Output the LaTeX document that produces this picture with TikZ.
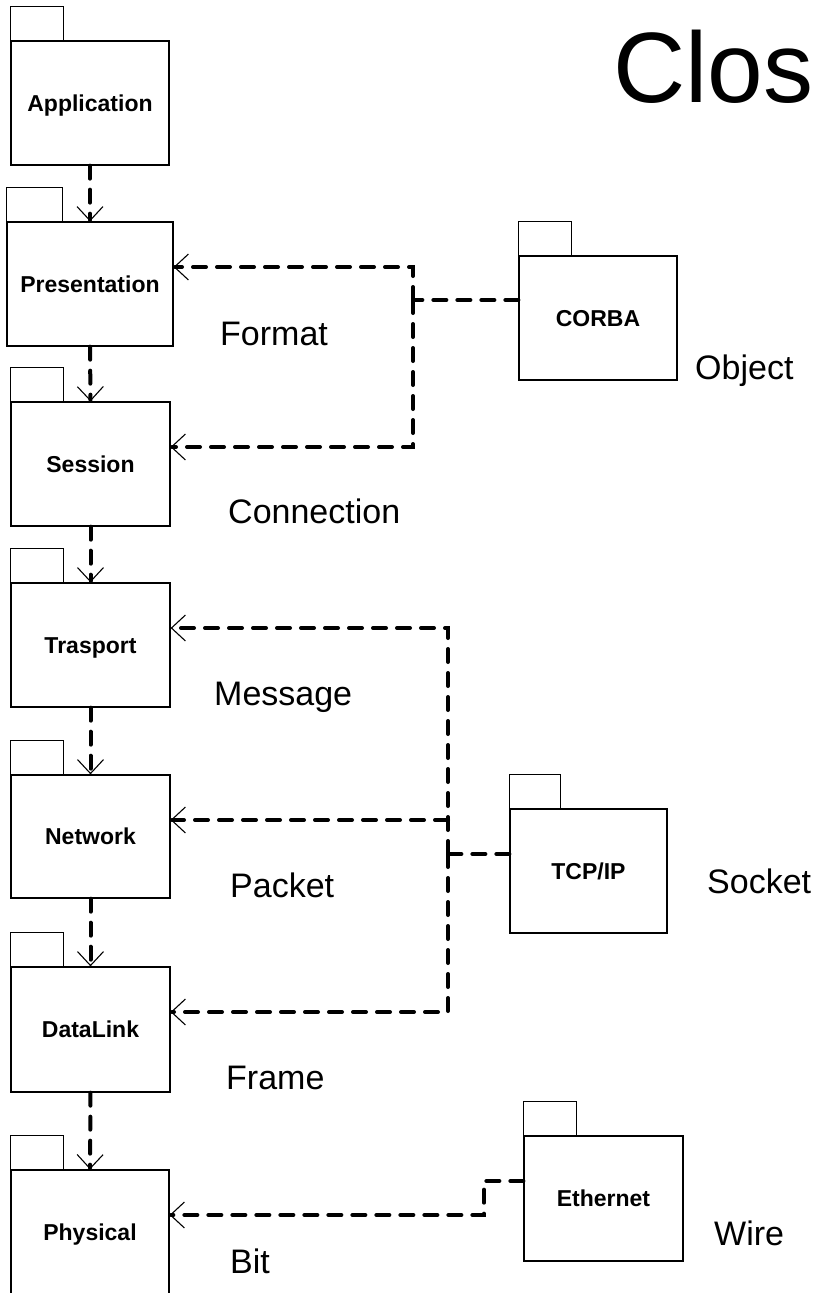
\documentclass[tikz,border=0pt]{standalone}
\usepackage{fontspec}
\setmainfont{Liberation Sans}
\usetikzlibrary{arrows.meta}
\tikzset{
  pkg/.style={draw, line width=1.3pt, minimum height=124pt, inner sep=0pt,
    font=\bfseries\fontsize{23}{26}\selectfont, text height=16.5pt, text depth=0pt},
  pkgtab/.style={draw, line width=1.3pt},
  dep/.style={line width=4pt, dash pattern=on 13pt off 11pt, line cap=round},
  deparrow/.style={dep, -{Straight Barb[length=14pt,width=26pt,line width=1.1pt]}},
  lbl/.style={inner sep=0pt, anchor=base west, font=\fontsize{34}{40}\selectfont},
}
\begin{document}
\begin{tikzpicture}[x=1pt,y=-1pt]
\useasboundingbox (0,0) rectangle (816,1293);
\clip (0,0) rectangle (816,1293);
\fill[white] (0,0) rectangle (816,1293);

% title
\node[inner sep=0pt, anchor=base west, font=\fontsize{100}{110}\selectfont] (title) at (613,102) {Close};

% OSI layer packages
\node[pkg, minimum width=158pt] (app)   at (90,103)    {Application};
\node[pkg, minimum width=166pt] (pres)  at (90,284)    {Presentation};
\node[pkg, minimum width=159pt] (sess)  at (90.5,464)  {Session};
\node[pkg, minimum width=159pt] (trans) at (90.5,645)  {Trasport};
\node[pkg, minimum width=159pt, minimum height=123pt] (net) at (90.5,836.5) {Network};
\node[pkg, minimum width=159pt, minimum height=125pt] (dl)  at (90.5,1029.5) {DataLink};
\node[pkg, minimum width=158pt, minimum height=128pt] (phys) at (90,1234) {};
\node[font=\bfseries\fontsize{23}{26}\selectfont, inner sep=0pt, text height=16.5pt, text depth=0pt] (physlbl) at (90,1232) {Physical};

% implementation packages
\node[pkg, minimum width=158pt] (corba) at (598,318)    {CORBA};
\node[pkg, minimum width=157pt] (tcp)   at (588.5,871)  {TCP/IP};
\node[pkg, minimum width=159pt, minimum height=125pt] (eth) at (603.5,1198.5) {Ethernet};

% package tabs
\draw[pkgtab] (app.north west)   rectangle ++(53,-34);
\draw[pkgtab] (pres.north west)  rectangle ++(56,-34);
\draw[pkgtab] (sess.north west)  rectangle ++(53,-34);
\draw[pkgtab] (trans.north west) rectangle ++(53,-34);
\draw[pkgtab] (net.north west)   rectangle ++(53,-34);
\draw[pkgtab] (dl.north west)    rectangle ++(53,-34);
\draw[pkgtab] (phys.north west)  rectangle ++(53,-34);
\draw[pkgtab] (corba.north west) rectangle ++(53,-34);
\draw[pkgtab] (tcp.north west)   rectangle ++(51,-34);
\draw[pkgtab] (eth.north west)   rectangle ++(53,-34);

% layer stack dependencies
\draw[deparrow] (app.south)   -- (pres.north);
\draw[deparrow] (pres.south)  -- (sess.north);
\draw[deparrow] (sess.south)  -- (trans.north);
\draw[deparrow] (trans.south) -- (net.north);
\draw[deparrow] (net.south)   -- (dl.north);
\draw[deparrow] (dl.south)    -- (phys.north);

% CORBA realises presentation and session
\coordinate (cj)   at (413,300);
\coordinate (ctop) at (413,267);
\coordinate (cbot) at (413,447);
\draw[dep] (corba.west |- cj) -- (cj);
\draw[deparrow] (cj) -- (ctop) -- (pres.east |- ctop);
\draw[deparrow] (cj) -- (cbot) -- (sess.east |- cbot);

% TCP/IP realises transport, network and data link
\coordinate (tj)   at (448,854);
\coordinate (ttop) at (448,628);
\coordinate (tmid) at (448,820);
\coordinate (tbot) at (448,1012);
\draw[dep] (tcp.west |- tj) -- (tj);
\draw[deparrow] (tj) -- (ttop) -- (trans.east |- ttop);
\draw[deparrow] (tmid) -- (net.east |- tmid);
\draw[deparrow] (tj) -- (tbot) -- (dl.east |- tbot);

% Ethernet realises physical
\coordinate (e1) at (484,1181);
\coordinate (e2) at (484,1215);
\draw[deparrow] (eth.west |- e1) -- (e1) -- (e2) -- (phys.east |- e2);

% data unit labels
\node[lbl] (lformat) at (220,345)  {Format};
\node[lbl] (lconn)   at (228,523)  {Connection};
\node[lbl] (lmsg)    at (214,705)  {Message};
\node[lbl] (lpkt)    at (230,897)  {Packet};
\node[lbl] (lframe)  at (226,1089) {Frame};
\node[lbl] (lbit)    at (230,1273) {Bit};
\node[lbl] (lobj)    at (695,379)  {Object};
\node[lbl] (lsock)   at (707,893)  {Socket};
\node[lbl] (lwire)   at (714,1245) {Wire};
\end{tikzpicture}
\end{document}
